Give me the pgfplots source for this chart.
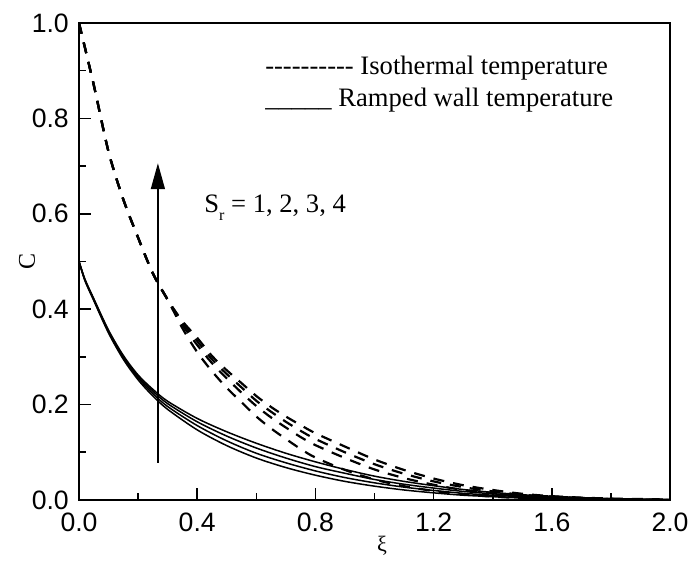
\documentclass[border=0pt]{standalone}
\usepackage{fontspec}
\setmainfont{Liberation Serif}
\setsansfont{Liberation Sans}
\usepackage{pgfplots}
\pgfplotsset{compat=1.18}
\usetikzlibrary{arrows.meta}
\def\hy{-\kern0pt}
\begin{document}
\begin{tikzpicture}
\useasboundingbox (-39.5pt,-30.5pt) rectangle (305.5pt,250pt);
\begin{axis}[
  scale only axis, width=295.5pt, height=238.5pt,
  xmin=0, xmax=2, ymin=0, ymax=1,
  xtick={0,0.4,0.8,1.2,1.6,2.0}, minor x tick num=1,
  ytick={0,0.2,0.4,0.6,0.8,1.0}, minor y tick num=1,
  tick align=inside, xtick pos=bottom, ytick pos=left,
  major tick length=6pt, minor tick length=3.5pt,
  axis line style={line width=0.9pt},
  every tick/.style={black, line width=0.8pt},
  /pgf/number format/assume math mode=true,
  /pgf/number format/.cd, fixed, fixed zerofill, precision=1, /pgfplots/.cd,
  tick label style={font=\sffamily\fontsize{13.3}{15}\selectfont},
  xticklabel style={yshift=-3pt},
  yticklabel style={xshift=-1.6pt},
  xlabel={ξ}, ylabel={C},
  xlabel style={font=\fontsize{11}{13}\selectfont, at={(axis description cs:0.5126,0)}, anchor=center, yshift=-23pt},
  ylabel style={font=\fontsize{12}{14}\selectfont, at={(axis description cs:0,0.5)}, anchor=center, rotate=0, yshift=26pt},
]
% Isothermal (dashed), Sr = 1..4
\addplot[black, line width=1.1pt, dash pattern=on 5.5pt off 4.5pt, smooth] coordinates {
(0,1.0) (0.05,0.87) (0.1,0.73) (0.15,0.63) (0.2,0.55) (0.25,0.475) (0.3,0.42) (0.35,0.36) (0.4,0.31) (0.45,0.27) (0.5,0.235) (0.55,0.205) (0.6,0.175) (0.65,0.15) (0.7,0.128) (0.75,0.107) (0.8,0.089) (0.9,0.063) (1.0,0.043) (1.1,0.029) (1.2,0.019) (1.3,0.012) (1.4,0.007) (1.5,0.004) (1.6,0.002) (1.7,0.001) (1.8,0.001) (1.9,0) (2.0,0)};
\addplot[black, line width=1.1pt, dash pattern=on 5.5pt off 4.5pt, smooth] coordinates {
(0,1.0) (0.05,0.87) (0.1,0.73) (0.15,0.63) (0.2,0.55) (0.25,0.475) (0.3,0.42) (0.35,0.367) (0.4,0.325) (0.45,0.287) (0.5,0.255) (0.55,0.225) (0.6,0.197) (0.65,0.173) (0.7,0.152) (0.75,0.132) (0.8,0.115) (0.9,0.088) (1.0,0.064) (1.1,0.046) (1.2,0.032) (1.3,0.021) (1.4,0.014) (1.5,0.008) (1.6,0.005) (1.7,0.003) (1.8,0.002) (1.9,0.001) (2.0,0)};
\addplot[black, line width=1.1pt, dash pattern=on 5.5pt off 4.5pt, smooth] coordinates {
(0,1.0) (0.05,0.87) (0.1,0.73) (0.15,0.63) (0.2,0.55) (0.25,0.475) (0.3,0.42) (0.35,0.372) (0.4,0.333) (0.45,0.295) (0.5,0.264) (0.55,0.236) (0.6,0.208) (0.65,0.185) (0.7,0.164) (0.75,0.145) (0.8,0.128) (0.9,0.1) (1.0,0.075) (1.1,0.055) (1.2,0.039) (1.3,0.027) (1.4,0.018) (1.5,0.011) (1.6,0.007) (1.7,0.004) (1.8,0.002) (1.9,0.001) (2.0,0)};
\addplot[black, line width=1.1pt, dash pattern=on 5.5pt off 4.5pt, smooth] coordinates {
(0,1.0) (0.05,0.87) (0.1,0.73) (0.15,0.63) (0.2,0.55) (0.25,0.475) (0.3,0.42) (0.35,0.375) (0.4,0.34) (0.45,0.302) (0.5,0.272) (0.55,0.245) (0.6,0.218) (0.65,0.195) (0.7,0.175) (0.75,0.157) (0.8,0.14) (0.9,0.112) (1.0,0.085) (1.1,0.063) (1.2,0.045) (1.3,0.031) (1.4,0.021) (1.5,0.013) (1.6,0.008) (1.7,0.005) (1.8,0.003) (1.9,0.002) (2.0,0.001)};
% Ramped wall (solid), Sr = 1..4
\addplot[black, line width=0.75pt, smooth] coordinates {
(0,0.5) (0.02,0.46) (0.05,0.418) (0.1,0.35) (0.15,0.295) (0.2,0.252) (0.25,0.218) (0.3,0.19) (0.4,0.147) (0.5,0.114) (0.6,0.088) (0.7,0.068) (0.8,0.052) (0.9,0.039) (1.0,0.029) (1.1,0.021) (1.2,0.015) (1.3,0.01) (1.4,0.007) (1.5,0.004) (1.6,0.003) (1.7,0.002) (1.8,0.001) (1.9,0) (2.0,0)};
\addplot[black, line width=0.75pt, smooth] coordinates {
(0,0.5) (0.02,0.461) (0.05,0.42) (0.1,0.352) (0.15,0.298) (0.2,0.256) (0.25,0.223) (0.3,0.196) (0.4,0.156) (0.5,0.124) (0.6,0.098) (0.7,0.078) (0.8,0.061) (0.9,0.047) (1.0,0.036) (1.1,0.027) (1.2,0.02) (1.3,0.014) (1.4,0.01) (1.5,0.007) (1.6,0.004) (1.7,0.003) (1.8,0.002) (1.9,0.001) (2.0,0)};
\addplot[black, line width=0.75pt, smooth] coordinates {
(0,0.5) (0.02,0.462) (0.05,0.421) (0.1,0.354) (0.15,0.3) (0.2,0.259) (0.25,0.228) (0.3,0.202) (0.4,0.164) (0.5,0.134) (0.6,0.109) (0.7,0.088) (0.8,0.07) (0.9,0.056) (1.0,0.043) (1.1,0.033) (1.2,0.025) (1.3,0.018) (1.4,0.013) (1.5,0.009) (1.6,0.006) (1.7,0.004) (1.8,0.002) (1.9,0.001) (2.0,0)};
\addplot[black, line width=0.75pt, smooth] coordinates {
(0,0.5) (0.02,0.463) (0.05,0.422) (0.1,0.356) (0.15,0.303) (0.2,0.262) (0.25,0.232) (0.3,0.207) (0.4,0.171) (0.5,0.143) (0.6,0.119) (0.7,0.098) (0.8,0.08) (0.9,0.064) (1.0,0.05) (1.1,0.039) (1.2,0.03) (1.3,0.022) (1.4,0.016) (1.5,0.011) (1.6,0.008) (1.7,0.005) (1.8,0.003) (1.9,0.002) (2.0,0.001)};
% arrow
\addplot[black, line width=0.8pt, -{Triangle[width=7pt,length=13pt]}] coordinates {(0.267,0.078) (0.267,0.706)};
% annotations
\node[anchor=base west, inner sep=0pt, font=\fontsize{13.3}{16}\selectfont] at (axis cs:0.629,0.891) {\hy\hy\hy\hy\hy\hy\hy\hy\hy\hy{} Isothermal temperature};
\node[anchor=base west, inner sep=0pt, font=\fontsize{13.3}{16}\selectfont] at (axis cs:0.629,0.824) {\_\_\_\_\_ Ramped wall temperature};
\node[anchor=base west, inner sep=0pt, font=\fontsize{13.3}{16}\selectfont] at (axis cs:0.423,0.602) {S\raisebox{-4pt}{\fontsize{8}{9}\selectfont r} = 1, 2, 3, 4};
\end{axis}
\end{tikzpicture}
\end{document}
